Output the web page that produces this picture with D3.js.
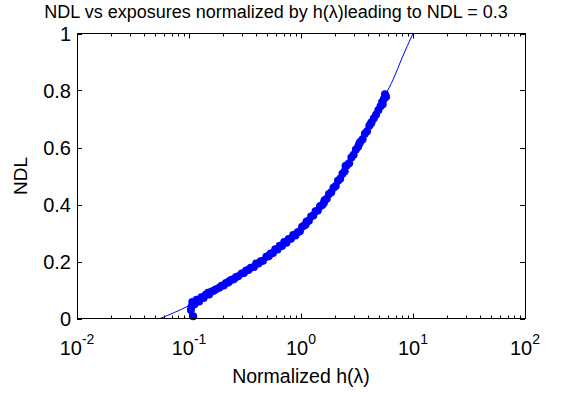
<!DOCTYPE html>
<html>
<head>
  <meta charset='utf-8'>
  <script type="text/javascript" src="https://cdn.jsdelivr.net/npm/d3@7"></script>
  <style type="text/css">
    body { margin: 0; background: #fff; }
    text { font-family: "Liberation Sans", Arial, sans-serif; fill: #000; }
    .frame { fill: none; stroke: #000; stroke-width: 1; }
    .tick { stroke: #000; stroke-width: 1; }
  </style>
</head>
<body>
</body>
<script type="text/javascript">
  // measured points (h normalized, NDL)
  let hValues = [0.105, 0.107, 0.112, 0.117, 0.123, 0.129, 0.135, 0.141, 0.151, 0.158, 0.166, 0.174,
    0.186, 0.195, 0.204, 0.214, 0.224, 0.240, 0.251, 0.263, 0.275, 0.295, 0.309, 0.324, 0.339, 0.355,
    0.380, 0.398, 0.417, 0.437, 0.457, 0.490, 0.513, 0.537, 0.562, 0.589, 0.617, 0.646, 0.676, 0.708,
    0.741, 0.776, 0.813, 0.851, 0.891, 0.933, 0.977, 1.023, 1.072, 1.122, 1.175, 1.230, 1.288, 1.349,
    1.413, 1.479, 1.549, 1.622, 1.698, 1.778, 1.862, 1.950, 2.042, 2.138, 2.239, 2.344, 2.455, 2.570,
    2.692, 2.818, 2.951, 3.090, 3.236, 3.388, 3.548, 3.715, 3.890, 4.074, 4.266, 4.467, 4.677, 4.898,
    5.129, 5.370, 5.495, 5.623, 5.754, 0.109, 0.104, 0.148, 0.230, 0.520, 1.100, 1.600, 2.500, 3.300, 4.200, 5.300]
  let ndlValues = [0.040, 0.058, 0.050, 0.066, 0.060, 0.075, 0.072, 0.083, 0.084, 0.094, 0.097, 0.103,
    0.108, 0.115, 0.116, 0.125, 0.126, 0.136, 0.138, 0.146, 0.148, 0.158, 0.160, 0.168, 0.170, 0.178,
    0.181, 0.193, 0.193, 0.201, 0.203, 0.217, 0.218, 0.228, 0.230, 0.243, 0.242, 0.255, 0.254, 0.268,
    0.266, 0.279, 0.280, 0.293, 0.291, 0.303, 0.306, 0.322, 0.326, 0.340, 0.343, 0.358, 0.361, 0.376,
    0.379, 0.394, 0.398, 0.415, 0.420, 0.437, 0.443, 0.459, 0.465, 0.483, 0.490, 0.508, 0.517, 0.538,
    0.545, 0.565, 0.575, 0.593, 0.603, 0.620, 0.629, 0.648, 0.657, 0.676, 0.689, 0.703, 0.715, 0.731,
    0.745, 0.752, 0.770, 0.787, 0.778, 0.008, 0.030, 0.090, 0.132, 0.222, 0.330, 0.405, 0.535, 0.612, 0.684, 0.760]

  // fitted curve
  let fitH = [0.055, 0.1, 0.2, 0.35, 0.4, 0.59, 1.0, 1.26, 1.48, 1.94, 2.93, 4.13, 5.6, 6.67, 8.0, 10]
  let fitNdl = [0, 0.045, 0.115, 0.172, 0.19, 0.24, 0.315, 0.355, 0.39, 0.455, 0.575, 0.68, 0.78, 0.84, 0.915, 1.0]

  let xExponents = [-2, -1, 0, 1, 2]
  let yTicks = [0, 0.2, 0.4, 0.6, 0.8, 1]
  let yTickLabels = ["0", "0.2", "0.4", "0.6", "0.8", "1"]

  let w = 566;
  let h = 396;
  let padL = 77, padR = 525, padT = 33.5, padB = 318.5;

  let x = d3.scaleLog().domain([0.01, 100]).range([padL, padR])
  let y = d3.scaleLinear().domain([0, 1]).range([padB, padT])

  let svg = d3.select("body")
    .append("svg")
    .attr("width", w)
    .attr("height", h);

  // minor ticks on log axis
  let minor = []
  for (let e = -2; e < 2; e++) {
    for (let m = 2; m <= 9; m++) minor.push(m * Math.pow(10, e))
  }
  let majors = xExponents.map(e => Math.pow(10, e))

  let g = svg.append("g")
  minor.forEach(v => {
    let px = Math.round(x(v)) + 0.5
    g.append("line").attr("class", "tick").attr("x1", px).attr("x2", px).attr("y1", padB).attr("y2", padB - 3)
    g.append("line").attr("class", "tick").attr("x1", px).attr("x2", px).attr("y1", padT).attr("y2", padT + 3)
  })
  majors.forEach(v => {
    let px = Math.round(x(v)) + 0.5
    g.append("line").attr("class", "tick").attr("x1", px).attr("x2", px).attr("y1", padB).attr("y2", padB - 5)
    g.append("line").attr("class", "tick").attr("x1", px).attr("x2", px).attr("y1", padT).attr("y2", padT + 5)
  })
  yTicks.forEach(v => {
    let py = Math.round(y(v)) + 0.5
    g.append("line").attr("class", "tick").attr("x1", padL).attr("x2", padL + 5).attr("y1", py).attr("y2", py)
    g.append("line").attr("class", "tick").attr("x1", padR).attr("x2", padR - 5).attr("y1", py).attr("y2", py)
  })

  // fitted line
  let fit = fitH.map((v, i) => [v, fitNdl[i]])
  svg.append("path")
    .attr("d", d3.line().x(d => x(d[0])).y(d => y(d[1])).curve(d3.curveMonotoneX)(fit))
    .attr("fill", "none")
    .attr("stroke", "#0000ff")
    .attr("stroke-width", 1)

  // data points
  let pts = hValues.map((v, i) => [v, ndlValues[i]])
  svg.selectAll("circle.pt")
    .data(pts)
    .enter()
    .append("circle")
    .attr("class", "pt")
    .attr("cx", d => x(d[0]))
    .attr("cy", d => y(d[1]))
    .attr("r", 4)
    .attr("fill", "#0000ff")

  // frame
  svg.append("rect").attr("class", "frame")
    .attr("x", padL + 0.5).attr("y", padT)
    .attr("width", padR - padL).attr("height", padB - padT)

  // y tick labels
  yTicks.forEach((v, i) => {
    svg.append("text")
      .attr("x", 71)
      .attr("y", y(v) + 7)
      .attr("text-anchor", "end")
      .style("font-size", "20px")
      .text(yTickLabels[i])
  })

  // x tick labels 10^e
  xExponents.forEach(e => {
    let t = svg.append("text")
      .attr("x", x(Math.pow(10, e)))
      .attr("y", 355)
      .attr("text-anchor", "middle")
      .style("font-size", "20px")
    t.append("tspan").text("10")
    t.append("tspan").attr("dy", -11).style("font-size", "14px").text(e)
  })

  // titles
  svg.append("text")
    .attr("x", 276)
    .attr("y", 18)
    .attr("text-anchor", "middle")
    .style("font-size", "18px")
    .text("NDL vs exposures normalized by h(λ)leading to NDL = 0.3")

  svg.append("text")
    .attr("x", 301)
    .attr("y", 383)
    .attr("text-anchor", "middle")
    .style("font-size", "19.5px")
    .text("Normalized h(λ)")

  svg.append("text")
    .attr("transform", "translate(27," + 176 + ") rotate(-90)")
    .attr("text-anchor", "middle")
    .style("font-size", "19px")
    .text("NDL")
</script>
</html>
